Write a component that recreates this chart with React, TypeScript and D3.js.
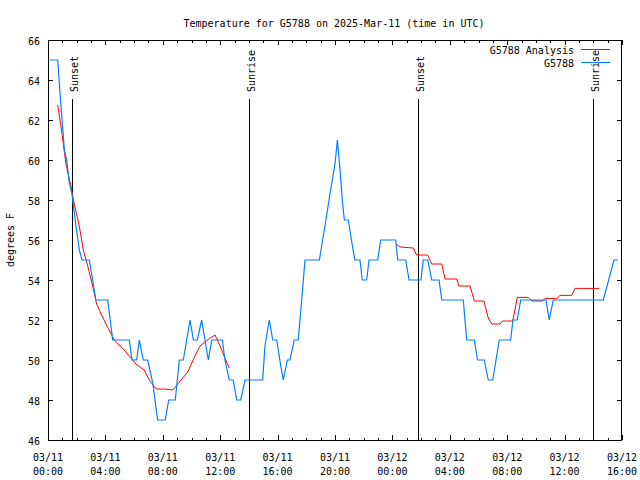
import React, { useEffect, useRef } from 'react';
import * as d3 from 'd3';

// hours after 2025-03-11 00:00 UTC, temperature in F
const stationHours = [0.14, 0.68, 0.84, 0.98, 1.14, 1.30, 1.48, 1.67, 1.95, 2.18, 2.37, 2.88, 3.11, 3.34, 4.16, 4.51, 5.67, 5.85, 6.18, 6.36, 6.64, 6.95, 7.30, 7.64, 8.17, 8.41, 8.87, 9.15, 9.43, 9.90, 10.13, 10.40, 10.71, 10.94, 11.17, 11.41, 12.15, 12.33, 12.63, 12.91, 13.15, 13.43, 13.73, 14.96, 15.12, 15.42, 15.66, 15.94, 16.22, 16.40, 16.68, 16.86, 17.16, 17.44, 17.68, 17.91, 18.91, 19.30, 19.65, 20.00, 20.17, 20.35, 20.51, 20.65, 20.93, 21.21, 21.39, 21.74, 21.90, 22.21, 22.37, 22.98, 23.18, 24.23, 24.37, 24.93, 25.16, 25.99, 26.15, 26.46, 26.74, 27.25, 27.44, 28.94, 29.18, 29.71, 29.93, 30.40, 30.68, 30.99, 31.45, 32.24, 32.40, 32.70, 32.94, 34.70, 34.93, 35.21, 38.70, 39.44, 39.72];
const stationTemps = [65, 65, 63.3, 62, 60.5, 60, 58.9, 58.3, 56.7, 55.5, 55, 55, 54, 53, 53, 51, 51, 50, 50, 51, 50, 50, 48.85, 47, 47, 48, 48, 50, 50, 52, 51, 51, 52, 51, 50, 51, 51, 50, 49, 49, 48, 48, 49, 49, 50.7, 52, 51, 51, 49.7, 49, 50, 50, 51, 51, 53, 55, 55, 56.7, 58.3, 59.8, 61, 59.5, 58, 57, 57, 55.7, 55, 55, 54, 54, 55, 55, 56, 56, 55, 55, 54, 54, 55, 55, 54, 54, 53, 53, 51, 51, 50, 50, 49, 49, 51, 51, 52, 52, 53, 53, 52, 53, 53, 55, 55];

// analysis series (null = gap)
const analysisHours = [0.68, 0.98, 1.25, 1.60, 1.83, 2.18, 2.46, 2.77, 3.11, 3.39, 3.64, 4.04, 4.62, 5.44, 6.13, 6.71, 7.06, 7.53, 8.10, 8.69, 9.04, 9.74, 10.24, 10.59, 10.94, 11.29, 11.64, 11.99, 12.33, 12.63, 18.0, 24.23, 24.53, 25.46, 25.69, 26.45, 26.74, 27.44, 27.67, 28.48, 28.64, 29.41, 29.71, 30.38, 30.68, 30.92, 31.50, 31.69, 32.38, 32.54, 32.70, 33.47, 33.71, 34.47, 34.63, 35.45, 35.68, 36.49, 36.72, 38.42];
const analysisTemps: (number | null)[] = [62.75, 61.3, 59.8, 58.7, 57.8, 56.7, 55.5, 54.7, 53.7, 52.8, 52.4, 51.8, 51, 50.4, 49.8, 49.5, 49, 48.55, 48.55, 48.5, 48.8, 49.4, 50.2, 50.7, 50.9, 51.1, 51.25, 50.7, 50.1, 49.6, null, 55.8, 55.65, 55.6, 55.25, 55.25, 54.8, 54.8, 54.05, 54.05, 53.7, 53.7, 52.95, 52.95, 52.1, 51.8, 51.8, 51.95, 51.95, 52.5, 53.13, 53.13, 52.95, 52.95, 53.07, 53.07, 53.23, 53.23, 53.58, 53.58];

const sunLabels = ['Sunset', 'Sunrise', 'Sunset', 'Sunrise'];
const sunHours = [1.67, 14.03, 25.76, 38.0];

const yTicks = [46, 48, 50, 52, 54, 56, 58, 60, 62, 64, 66];

const FONT = '"DejaVu Sans Mono", monospace';
const BASE = Date.UTC(2025, 2, 11, 0, 0);
const toDate = (h: number) => new Date(BASE + h * 3600 * 1000);

const App: React.FC = () => {
  const svgRef = useRef<SVGSVGElement>(null);

  useEffect(() => {
    if (!svgRef.current) return;
    const svg = d3.select(svgRef.current);
    svg.selectAll('*').remove();

    const width = 640;
    const height = 480;
    const margin = { top: 40, right: 18, bottom: 40, left: 48 };
    const x0 = margin.left, x1 = width - margin.right;
    const y0 = height - margin.bottom, y1 = margin.top;

    const x = d3.scaleUtc().domain([toDate(0), toDate(40)]).range([x0, x1]);
    const y = d3.scaleLinear().domain([46, 66]).range([y0, y1]);

    svg.append('rect').attr('width', width).attr('height', height).attr('fill', '#fff');

    const axes = svg.append('g').attr('shape-rendering', 'crispEdges').attr('stroke', '#000');

    // hourly minor ticks, major every 4h
    const hourTicks = x.ticks(d3.utcHour.every(1)!);
    hourTicks.forEach(t => {
      const major = t.getUTCHours() % 4 === 0;
      const len = major ? 5 : 2.5;
      const px = Math.round(x(t)) + 0.5;
      axes.append('line').attr('x1', px).attr('x2', px).attr('y1', y0).attr('y2', y0 - len);
      axes.append('line').attr('x1', px).attr('x2', px).attr('y1', y1).attr('y2', y1 + len);
    });

    yTicks.forEach(v => {
      const py = Math.round(y(v)) + 0.5;
      axes.append('line').attr('x1', x0).attr('x2', x0 + 5).attr('y1', py).attr('y2', py);
      axes.append('line').attr('x1', x1).attr('x2', x1 - 5).attr('y1', py).attr('y2', py);
      svg.append('text')
        .attr('x', x0 - 8).attr('y', py + 4)
        .attr('text-anchor', 'end')
        .style('font-family', FONT).style('font-size', '10px')
        .text(v);
    });

    // x tick labels
    const fmtDay = d3.utcFormat('%m/%d');
    const fmtTime = d3.utcFormat('%H:%M');
    x.ticks(d3.utcHour.every(4)!).forEach(t => {
      const t1 = svg.append('text')
        .attr('text-anchor', 'middle')
        .style('font-family', FONT).style('font-size', '10px');
      t1.append('tspan').attr('x', x(t)).attr('y', 461).text(fmtDay(t));
      t1.append('tspan').attr('x', x(t)).attr('y', 475).text(fmtTime(t));
    });

    // sunrise / sunset markers
    sunHours.forEach((h, i) => {
      const px = Math.round(x(toDate(h))) + 0.5;
      axes.append('line').attr('x1', px).attr('x2', px).attr('y1', 99).attr('y2', y0);
      svg.append('text')
        .attr('transform', `translate(${px + 5},92) rotate(-90)`)
        .style('font-family', FONT).style('font-size', '10px')
        .text(sunLabels[i]);
    });

    // data lines
    const station = stationHours.map((h, i) => ({ t: toDate(h), v: stationTemps[i] as number | null }));
    const analysis = analysisHours.map((h, i) => ({ t: toDate(h), v: analysisTemps[i] }));

    const line = d3.line<{ t: Date; v: number | null }>()
      .defined(d => d.v !== null)
      .x(d => x(d.t))
      .y(d => y(d.v as number));

    svg.append('path').datum(analysis)
      .attr('d', line).attr('fill', 'none').attr('stroke', '#ff0000').attr('stroke-width', 1);
    svg.append('path').datum(station)
      .attr('d', line).attr('fill', 'none').attr('stroke', '#0080ff').attr('stroke-width', 1.2);

    // border
    axes.append('rect')
      .attr('x', x0 + 0.5).attr('y', y1 + 0.5)
      .attr('width', x1 - x0 - 1).attr('height', y0 - y1)
      .attr('fill', 'none');

    // legend
    const legend = [
      { name: 'G5788 Analysis', color: '#ff0000' },
      { name: 'G5788', color: '#0080ff' },
    ];
    legend.forEach((d, i) => {
      const ly = 49.5 + i * 13;
      svg.append('text')
        .attr('x', 574).attr('y', ly + 4)
        .attr('text-anchor', 'end')
        .style('font-family', FONT).style('font-size', '10px')
        .text(d.name);
      svg.append('line')
        .attr('x1', 581).attr('x2', 610).attr('y1', ly).attr('y2', ly)
        .attr('stroke', d.color).attr('stroke-width', 1).attr('shape-rendering', 'crispEdges');
    });

    // title
    svg.append('text')
      .attr('x', 334).attr('y', 27)
      .attr('text-anchor', 'middle')
      .style('font-family', FONT).style('font-size', '10px')
      .text('Temperature for G5788 on 2025-Mar-11 (time in UTC)');

    // y label
    svg.append('text')
      .attr('transform', 'translate(14,240) rotate(-90)')
      .attr('text-anchor', 'middle')
      .style('font-family', FONT).style('font-size', '10px')
      .text('degrees F');
  }, []);

  return (
    <div style={{ position: 'absolute', left: 0, top: 0 }}>
      <svg ref={svgRef} width={640} height={480} style={{ display: 'block' }} />
    </div>
  );
};

export default App;
